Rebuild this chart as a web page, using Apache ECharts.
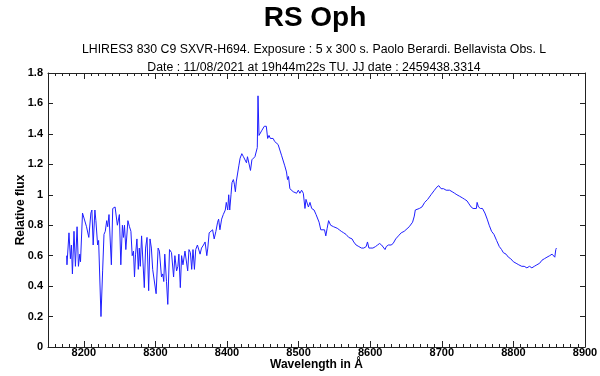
<!DOCTYPE html>
<html>
<head>
<meta charset="utf-8">
<script src="https://cdn.jsdelivr.net/npm/echarts@6/dist/echarts.min.js"></script>
<style>
  html, body { margin: 0; padding: 0; background: #fff; }
  #chart { width: 600px; height: 376px; }
</style>
</head>
<body>
<div id="chart"></div>
<script>
// spectrum, wavelength (A) / relative flux
const wavelength = [
  8176, 8176.5, 8179.3, 8181.3, 8182.7, 8184.1, 8186.3, 8188.3, 8190.6, 8192.5,
  8194.4, 8195.4, 8198.2, 8200, 8203.8, 8205.6, 8207, 8209.9, 8211.3, 8213.1,
  8215.5, 8216.9, 8219.3, 8220.7, 8224, 8226.3, 8228.2, 8230, 8232, 8233.4,
  8235.2, 8236.6, 8238.5, 8240.4, 8243.7, 8245.1, 8246.9, 8249.7, 8251.7, 8253.9,
  8255.4, 8256.8, 8258.7, 8261.6, 8263.8, 8265.8, 8267.6, 8269.4, 8270.8, 8272.3,
  8274.2, 8276.1, 8277.5, 8278.9, 8280.7, 8283.1, 8284.5, 8286.3, 8288.3, 8290.6,
  8292.5, 8294.4, 8296.2, 8298.6, 8301, 8303.8, 8305.6, 8308.5, 8310.3, 8311.7,
  8313.1, 8315.5, 8317.3, 8319.7, 8322.5, 8325.4, 8327.2, 8329.6, 8331.4, 8332.8,
  8334.8, 8336.6, 8338.5, 8341.3, 8343.2, 8345.1, 8346.9, 8348.9, 8350.7, 8352.5,
  8354.5, 8356.3, 8358.7, 8361, 8362.4, 8364.4, 8367.2, 8369.4, 8371.8, 8373.2,
  8375.1, 8377.5, 8379.9, 8382.1, 8384.5, 8386.9, 8388.3, 8390.1, 8392.5, 8394.8,
  8397.6, 8399, 8401, 8402.4, 8403.8, 8405.6, 8407, 8408.9, 8410.3, 8411.7,
  8413.1, 8415.1, 8416.5, 8418.3, 8420.7, 8423, 8425.4, 8427.2, 8428.6, 8430.6,
  8432.8, 8434.8, 8437, 8439, 8440.9, 8442.3, 8443.3, 8444.7, 8446.5, 8448.3,
  8450.3, 8452.1, 8453.5, 8454.9, 8456.8, 8458.7, 8460.6, 8462.4, 8464.4, 8466.6,
  8469, 8471.4, 8473.7, 8476.1, 8478.5, 8480.7, 8483.1, 8484.5, 8485.9, 8487.8,
  8490.2, 8492.5, 8494.8, 8497.2, 8499.6, 8501.8, 8504.2, 8506.6, 8508.9, 8510.3,
  8512.3, 8513.7, 8515.9, 8518.3, 8521.6, 8524.4, 8528.6, 8531, 8533.4, 8536.2,
  8538, 8539.9, 8541.9, 8543.2, 8544.7, 8546.5, 8548.9, 8551.1, 8554, 8556.8,
  8559.6, 8563, 8566.2, 8570, 8572.3, 8574.7, 8577, 8580.3, 8584.1, 8587.8,
  8591.1, 8594.4, 8596.2, 8598.2, 8601, 8603.8, 8607.5, 8610.3, 8613.1, 8615.9,
  8617.9, 8620.7, 8622.5, 8625.4, 8627.2, 8629.2, 8632, 8635.6, 8639.4, 8643.3,
  8647.5, 8649.7, 8654.5, 8659.2, 8661.6, 8663, 8664.8, 8668.6, 8672.3, 8676.1,
  8680.3, 8684.9, 8689.7, 8693, 8695.8, 8699, 8702.4, 8706.1, 8710.9, 8714.5,
  8717.9, 8721.1, 8725, 8728.6, 8732, 8735.2, 8738, 8740.9, 8743.7, 8746.1,
  8748.3, 8749.3, 8751.2, 8754, 8756.8, 8760.2, 8763.4, 8766.2, 8769.5, 8772.8,
  8776.5, 8780.3, 8783.5, 8785.9, 8789.7, 8793, 8796.2, 8800, 8803.8, 8807.5,
  8811.7, 8815.1, 8818.8, 8822.5, 8825.8, 8829.2, 8832.8, 8836.6, 8839.9, 8843.3,
  8846.9, 8850.7, 8854, 8856.4, 8857.8, 8859.2, 8860.1
];
const flux = [
  0.60, 0.54, 0.75, 0.58, 0.67, 0.48, 0.76, 0.53, 0.79, 0.53,
  0.61, 0.56, 0.88, 0.87, 0.79, 0.80, 0.72, 0.88, 0.90, 0.67,
  0.90, 0.83, 0.67, 0.70, 0.20, 0.50, 0.74, 0.76, 0.83, 0.79,
  0.87, 0.87, 0.54, 0.91, 0.92, 0.93, 0.80, 0.87, 0.54, 0.80,
  0.72, 0.80, 0.64, 0.83, 0.79, 0.76, 0.60, 0.63, 0.46, 0.61,
  0.71, 0.51, 0.65, 0.53, 0.73, 0.72, 0.39, 0.65, 0.72, 0.37,
  0.71, 0.65, 0.51, 0.52, 0.35, 0.65, 0.63, 0.46, 0.48, 0.43,
  0.61, 0.43, 0.28, 0.64, 0.62, 0.46, 0.60, 0.50, 0.53, 0.61,
  0.39, 0.60, 0.54, 0.63, 0.62, 0.50, 0.64, 0.62, 0.51, 0.64,
  0.51, 0.64, 0.67, 0.67, 0.61, 0.65, 0.67, 0.69, 0.60, 0.65,
  0.75, 0.76, 0.77, 0.71, 0.76, 0.82, 0.84, 0.77, 0.84, 0.87,
  0.90, 0.95, 0.90, 1.00, 0.90, 1.00, 1.08, 1.10, 1.07, 1.02,
  1.09, 1.10, 1.19, 1.24, 1.27, 1.25, 1.26, 1.21, 1.25, 1.24,
  1.16, 1.23, 1.22, 1.25, 1.26, 1.31, 1.65, 1.39, 1.39, 1.42,
  1.42, 1.45, 1.46, 1.45, 1.37, 1.39, 1.37, 1.38, 1.37, 1.35,
  1.34, 1.33, 1.33, 1.26, 1.25, 1.19, 1.15, 1.10, 1.12, 1.04,
  1.03, 1.02, 1.03, 1.01, 1.03, 1.01, 1.03, 1.01, 0.91, 0.97,
  0.96, 0.92, 0.95, 0.91, 0.90, 0.87, 0.82, 0.77, 0.78, 0.77,
  0.73, 0.78, 0.83, 0.82, 0.80, 0.80, 0.79, 0.78, 0.78, 0.77,
  0.76, 0.75, 0.74, 0.72, 0.71, 0.71, 0.69, 0.67, 0.66, 0.65,
  0.65, 0.66, 0.69, 0.65, 0.65, 0.65, 0.66, 0.67, 0.68, 0.67,
  0.66, 0.64, 0.66, 0.67, 0.67, 0.67, 0.68, 0.71, 0.73, 0.75,
  0.76, 0.77, 0.79, 0.82, 0.86, 0.90, 0.90, 0.91, 0.92, 0.95,
  0.97, 1.00, 1.03, 1.05, 1.06, 1.04, 1.04, 1.03, 1.03, 1.02,
  1.01, 1.00, 0.99, 0.98, 0.97, 0.96, 0.94, 0.92, 0.91, 0.90,
  0.91, 0.95, 0.92, 0.91, 0.91, 0.88, 0.84, 0.80, 0.76, 0.74,
  0.70, 0.66, 0.64, 0.62, 0.61, 0.59, 0.58, 0.56, 0.55, 0.54,
  0.53, 0.53, 0.52, 0.53, 0.52, 0.53, 0.54, 0.55, 0.57, 0.58,
  0.59, 0.60, 0.61, 0.62, 0.59, 0.64, 0.65
];
const xMajorTicks = [8200, 8300, 8400, 8500, 8600, 8700, 8800, 8900];

const chart = echarts.init(document.getElementById('chart'));
const font = 'Liberation Sans, Arial, sans-serif';
const lineCol = '#222';

const points = wavelength.map((w, i) => [w, flux[i]]);

// major ticks + labels, on the bottom or mirrored on top
function majorAxis(pos, showLabel) {
  return {
    type: 'value', position: pos, min: 8150, max: 8900,
    axisLine: { show: true, lineStyle: { color: lineCol, width: 1 } },
    axisTick: { show: true, inside: true, length: 6, customValues: xMajorTicks, lineStyle: { color: lineCol } },
    axisLabel: {
      show: showLabel, customValues: xMajorTicks, margin: 0,
      formatter: v => String(v),
      color: '#000', fontFamily: font, fontWeight: 'bold', fontSize: 11
    },
    splitLine: { show: false },
    name: showLabel ? 'Wavelength in Å' : '',
    nameLocation: 'middle', nameGap: 12, nameMoveOverlap: false,
    nameTextStyle: { color: '#000', fontFamily: font, fontWeight: 'bold', fontSize: 12 }
  };
}
// small ticks every 10 A
function minorAxis(pos) {
  return {
    type: 'value', position: pos, min: 8150, max: 8900, interval: 10,
    axisLine: { show: false },
    axisTick: { show: true, inside: true, length: 3, lineStyle: { color: lineCol } },
    axisLabel: { show: false },
    splitLine: { show: false }
  };
}
function yAxis(pos, showLabel) {
  return {
    type: 'value', position: pos, min: 0, max: 1.8, interval: 0.2,
    axisLine: { show: true, lineStyle: { color: lineCol, width: 1 } },
    axisTick: { show: true, inside: true, length: 5, lineStyle: { color: lineCol } },
    axisLabel: {
      show: showLabel, margin: 5,
      color: '#000', fontFamily: font, fontWeight: 'bold', fontSize: 11
    },
    splitLine: { show: false },
    name: showLabel ? 'Relative flux' : '',
    nameLocation: 'middle', nameGap: 21, nameRotate: 90, nameMoveOverlap: false,
    nameTextStyle: { color: '#000', fontFamily: font, fontWeight: 'bold', fontSize: 12 }
  };
}

chart.setOption({
  animation: false,
  backgroundColor: '#fff',
  title: [
    { text: 'RS Oph', left: 310, textAlign: 'center', top: -1,
      textStyle: { fontFamily: font, fontWeight: 'bold', fontSize: 28, color: '#000' } },
    { text: 'LHIRES3 830 C9 SXVR-H694. Exposure : 5 x 300 s. Paolo Berardi. Bellavista Obs. L',
      left: 309, textAlign: 'center', top: 39,
      textStyle: { fontFamily: font, fontWeight: 'normal', fontSize: 12.3, color: '#000' } },
    { text: 'Date : 11/08/2021 at 19h44m22s TU. JJ date : 2459438.3314',
      left: 309, textAlign: 'center', top: 57,
      textStyle: { fontFamily: font, fontWeight: 'normal', fontSize: 12.3, color: '#000' } }
  ],
  grid: { left: 48, right: 15, top: 73, bottom: 29, containLabel: false, outerBoundsMode: 'none' },
  xAxis: [majorAxis('bottom', true), minorAxis('bottom'), majorAxis('top', false), minorAxis('top')],
  yAxis: [yAxis('left', true), yAxis('right', false)],
  series: [{
    type: 'line',
    data: points,
    xAxisIndex: 0, yAxisIndex: 0,
    showSymbol: false,
    lineStyle: { color: '#1f1fff', width: 1 },
    silent: true
  }]
});
</script>
</body>
</html>
